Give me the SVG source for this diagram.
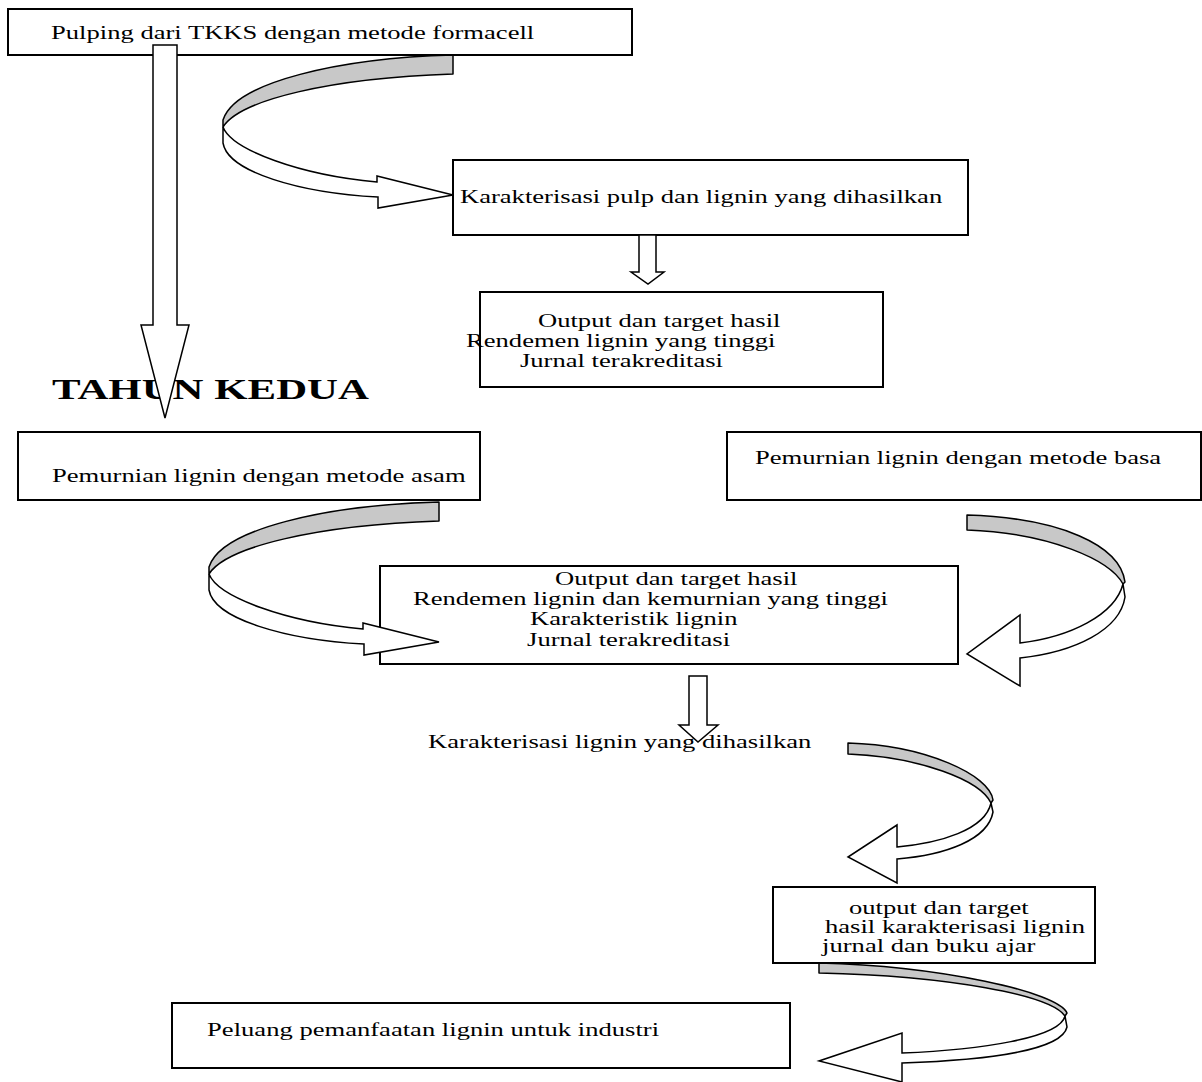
<svg xmlns="http://www.w3.org/2000/svg" width="1202" height="1082" viewBox="0 0 1202 1082">
<style>
.box{fill:#fff;stroke:#000;stroke-width:2}
.t{font-family:"Liberation Serif","Times New Roman",serif;font-size:18px;fill:#000}
.h{font-family:"Liberation Serif","Times New Roman",serif;font-size:29px;font-weight:bold;fill:#000}
.back{fill:#c8c8c8;stroke:#000;stroke-width:1.5;stroke-linejoin:round}
.front{fill:#fff;stroke:#000;stroke-width:1.5;stroke-linejoin:miter}
</style>
<rect width="1202" height="1082" fill="#fff"/>
<g id="n1"><rect class="box" x="8" y="9" width="624" height="46"/>
<text class="t" transform="scale(1.478 1)" x="34.5" y="39">Pulping dari TKKS dengan metode formacell</text></g>
<g id="n2"><rect class="box" x="453" y="160" width="515" height="75"/>
<text class="t" transform="scale(1.478 1)" x="311.2" y="203">Karakterisasi pulp dan lignin yang dihasilkan</text></g>
<g id="n3"><rect class="box" x="480" y="292" width="403" height="95"/>
<text class="t" transform="scale(1.478 1)" x="364" y="327">Output dan target hasil</text>
<text class="t" transform="scale(1.478 1)" x="315.3" y="347">Rendemen lignin yang tinggi</text>
<text class="t" transform="scale(1.478 1)" x="351.8" y="367">Jurnal terakreditasi</text></g>
<g id="title"><text class="h" transform="scale(1.478 1)" x="35.2" y="399">TAHUN KEDUA</text></g>
<g id="n4"><rect class="box" x="18" y="432" width="462" height="68"/>
<text class="t" transform="scale(1.478 1)" x="35.2" y="482">Pemurnian lignin dengan metode asam</text></g>
<g id="n5"><rect class="box" x="727" y="432" width="474" height="68"/>
<text class="t" transform="scale(1.478 1)" x="510.8" y="464">Pemurnian lignin dengan metode basa</text></g>
<g id="n6"><rect class="box" x="380" y="566" width="578" height="98"/>
<text class="t" transform="scale(1.478 1)" x="375.5" y="585">Output dan target hasil</text>
<text class="t" transform="scale(1.478 1)" x="279.4" y="605">Rendemen lignin dan kemurnian yang tinggi</text>
<text class="t" transform="scale(1.478 1)" x="358.6" y="625">Karakteristik lignin</text>
<text class="t" transform="scale(1.478 1)" x="356.6" y="646">Jurnal terakreditasi</text></g>
<g id="n7"><text class="t" transform="scale(1.478 1)" x="289.6" y="748">Karakterisasi lignin yang dihasilkan</text></g>
<g id="n8"><rect class="box" x="773" y="887" width="322" height="76"/>
<text class="t" transform="scale(1.478 1)" x="574.4" y="914">output dan target</text>
<text class="t" transform="scale(1.478 1)" x="558.2" y="933">hasil karakterisasi lignin</text>
<text class="t" transform="scale(1.478 1)" x="556.2" y="952">jurnal dan buku ajar</text></g>
<g id="n9"><rect class="box" x="172" y="1003" width="618" height="65"/>
<text class="t" transform="scale(1.478 1)" x="140.1" y="1036">Peluang pemanfaatan lignin untuk industri</text></g>
<g id="connectors">
<path class="front" d="M153,45 L177,45 L177,325 L189,325 L165,418 L141,325 L153,325 Z"/>
<g id="curveA">
<path class="back" d="M453,55 C340,58 235,82 223,120 L223,127 C240,100 330,78 453,74 Z"/>
<path class="front" d="M223,127 C232,150 300,175 377,182 L377,176 L453,195 L378,208 L378,197 C300,193 228,172 223,143 Z"/>
</g>
<use href="#curveA" transform="translate(-14 447)"/>
<path class="front" d="M639,235 L656,235 L656,272 L664,272 L648,284 L631,272 L639,272 Z"/>
<path class="back" d="M967,515 C1060,518 1120,545 1125,582 L1123,584 C1110,560 1050,533 967,530 Z"/>
<path class="front" d="M1123,584 C1115,615 1070,637 1020,643 L1020,615 L967,654 L1020,686 L1020,658 C1075,652 1120,630 1125,597 Z"/>
<path class="front" d="M689,676 L707,676 L707,725 L718,725 L698,742 L679,725 L689,725 Z"/>
<path class="back" d="M848,743 C925,745 990,775 993,800 L991,803 C980,780 920,757 848,754 Z"/>
<path class="front" d="M991,803 C985,830 940,843 897,847 L897,825 L848,857 L897,883 L897,859 C945,855 988,840 993,812 Z"/>
<path class="back" d="M819,963 C940,966 1058,992 1067,1013 L1065,1016 C1050,995 950,976 819,973 Z"/>
<path class="front" d="M1065,1016 C1060,1038 980,1050 902,1053 L902,1033 L819,1061 L902,1082 L902,1063 C990,1060 1062,1050 1067,1027 Z"/>
</g>
</svg>
